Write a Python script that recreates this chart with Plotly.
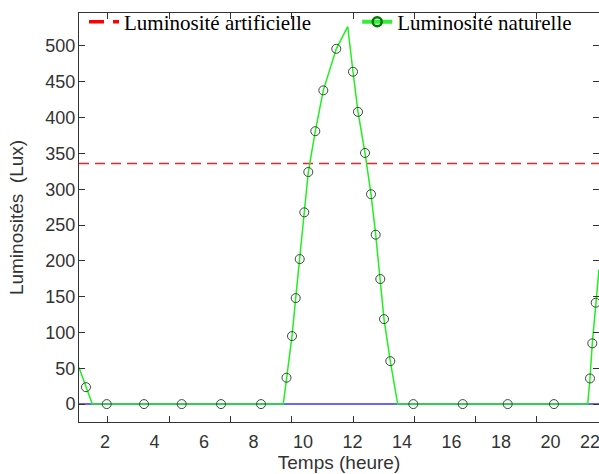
import plotly.graph_objects as go

# ---- data (hours, lux) ----
line_hours = [0.949, 1.487, 9.204, 9.333, 9.556, 9.705, 9.867, 10.053, 10.214, 10.497,
              10.820, 11.345, 11.806, 12.020, 12.222, 12.505, 12.747, 12.937, 13.123,
              13.273, 13.527, 13.826, 21.503, 21.596, 21.689, 21.826, 21.96]
line_lux = [51, 0, 0, 36.8, 95, 148, 202.5, 267.7, 324, 381,
            438, 496, 527, 464, 408, 350.6, 293, 236.5, 174.6,
            118.7, 60, 0, 0, 35.8, 84.8, 141.5, 188]

marker_hours = [1.232, 2.069, 3.576, 5.099, 6.687, 8.303, 9.333, 9.556, 9.705, 9.867,
                10.053, 10.214, 10.497, 10.820, 11.345, 12.020, 12.222, 12.505, 12.747,
                12.937, 13.123, 13.273, 13.527, 14.457, 16.453, 18.271, 20.141,
                21.596, 21.689, 21.826]
marker_lux = [23.6, 0, 0, 0, 0, 0, 36.8, 95, 148, 202.5,
              267.7, 324, 381, 438, 496, 464, 408, 350.6, 293,
              236.5, 174.6, 118.7, 60, 0, 0, 0, 0,
              35.8, 84.8, 141.5]

base_hours = [0.949, 21.96]
base_lux = [0, 0]

artificial_hours = [0.949, 21.96]
artificial_lux = [336, 336]

x_range = [0.949, 21.96]
y_range = [-25, 546]
x_tick_marks = [2.11, 4.59, 7.06, 9.54, 12.02, 14.49, 16.97, 19.45, 21.92]
x_label_pos = [2, 4, 6, 8, 10, 12, 14, 16, 18, 20, 21.6]
x_label_text = ["2", "4", "6", "8", "10", "12", "14", "16", "18", "20", "22"]
y_ticks = [0, 50, 100, 150, 200, 250, 300, 350, 400, 450, 500]

fig = go.Figure()

fig.add_trace(go.Scatter(x=base_hours, y=base_lux, mode="lines",
                         line=dict(color="#3535ff", width=1.5), showlegend=False, hoverinfo="skip"))
fig.add_trace(go.Scatter(x=artificial_hours, y=artificial_lux, mode="lines",
                         line=dict(color="#ee2222", width=1.5, dash="10px,6px"),
                         showlegend=False, hoverinfo="skip"))
fig.add_trace(go.Scatter(x=line_hours, y=line_lux, mode="lines",
                         line=dict(color="#22ee22", width=1.5), showlegend=False, hoverinfo="skip"))
fig.add_trace(go.Scatter(x=marker_hours, y=marker_lux, mode="markers",
                         marker=dict(symbol="circle-open", size=9,
                                     line=dict(color="#2f4f2f", width=1), color="#2f4f2f"),
                         showlegend=False, hoverinfo="skip"))

# legend-only entries
fig.add_trace(go.Scatter(x=[None], y=[None], mode="lines", name="Luminosité artificielle",
                         line=dict(color="#ff0000", width=3.5, dash="15px,9px"), legend="legend"))
fig.add_trace(go.Scatter(x=[None], y=[None], mode="lines+markers", name="Luminosité naturelle",
                         line=dict(color="#33ee33", width=4),
                         marker=dict(symbol="circle-open", size=9, color="#007a00",
                                     line=dict(color="#007a00", width=2.5)),
                         legend="legend2"))

# overlay axis carrying the labels
fig.add_trace(go.Scatter(x=[None], y=[None], xaxis="x2", showlegend=False, hoverinfo="skip"))

tick_font = dict(family="Liberation Sans", size=18, color="#333333")
title_font = dict(family="Liberation Sans", size=19, color="#333333")
legend_font = dict(family="Liberation Serif", size=21, color="#000000")

fig.update_layout(
    width=599, height=474,
    margin=dict(l=79, r=0, t=13, b=52, autoexpand=False),
    paper_bgcolor="white", plot_bgcolor="white",
    xaxis=dict(range=x_range, tickvals=x_tick_marks, showticklabels=False,
               ticks="inside", ticklen=6, tickcolor="#333333", tickwidth=1,
               showline=True, linecolor="#333333", linewidth=1, mirror="ticks",
               showgrid=False, zeroline=False, automargin=False),
    xaxis2=dict(range=x_range, overlaying="x", anchor="y", side="bottom",
                tickvals=x_label_pos, ticktext=x_label_text, ticks="",
                tickfont=tick_font, showline=False, showgrid=False, zeroline=False,
                ticklabelstandoff=7, automargin=False, ticklabeloverflow="allow",
                title=dict(text="Temps (heure)", font=title_font, standoff=3)),
    yaxis=dict(range=y_range, tickvals=y_ticks, tickfont=tick_font,
               ticks="inside", ticklen=6, tickcolor="#333333", tickwidth=1,
               showline=True, linecolor="#333333", linewidth=1, mirror="ticks",
               showgrid=False, zeroline=False, ticklabelstandoff=-1, automargin=False,
               title=dict(text="Luminosités  (Lux)", font=title_font, standoff=16)),
    legend=dict(x=0.0096, y=1.028, xanchor="left", yanchor="top", orientation="h",
                bgcolor="rgba(0,0,0,0)", borderwidth=0, font=legend_font),
    legend2=dict(x=0.535, y=1.028, xanchor="left", yanchor="top", orientation="h",
                 bgcolor="rgba(0,0,0,0)", borderwidth=0, font=legend_font),
)

# remove the default page margin so the 599x474 figure fills the window exactly
fig.write_html("out.html", config={"displayModeBar": False},
               post_script="document.body.style.margin='0px';")
